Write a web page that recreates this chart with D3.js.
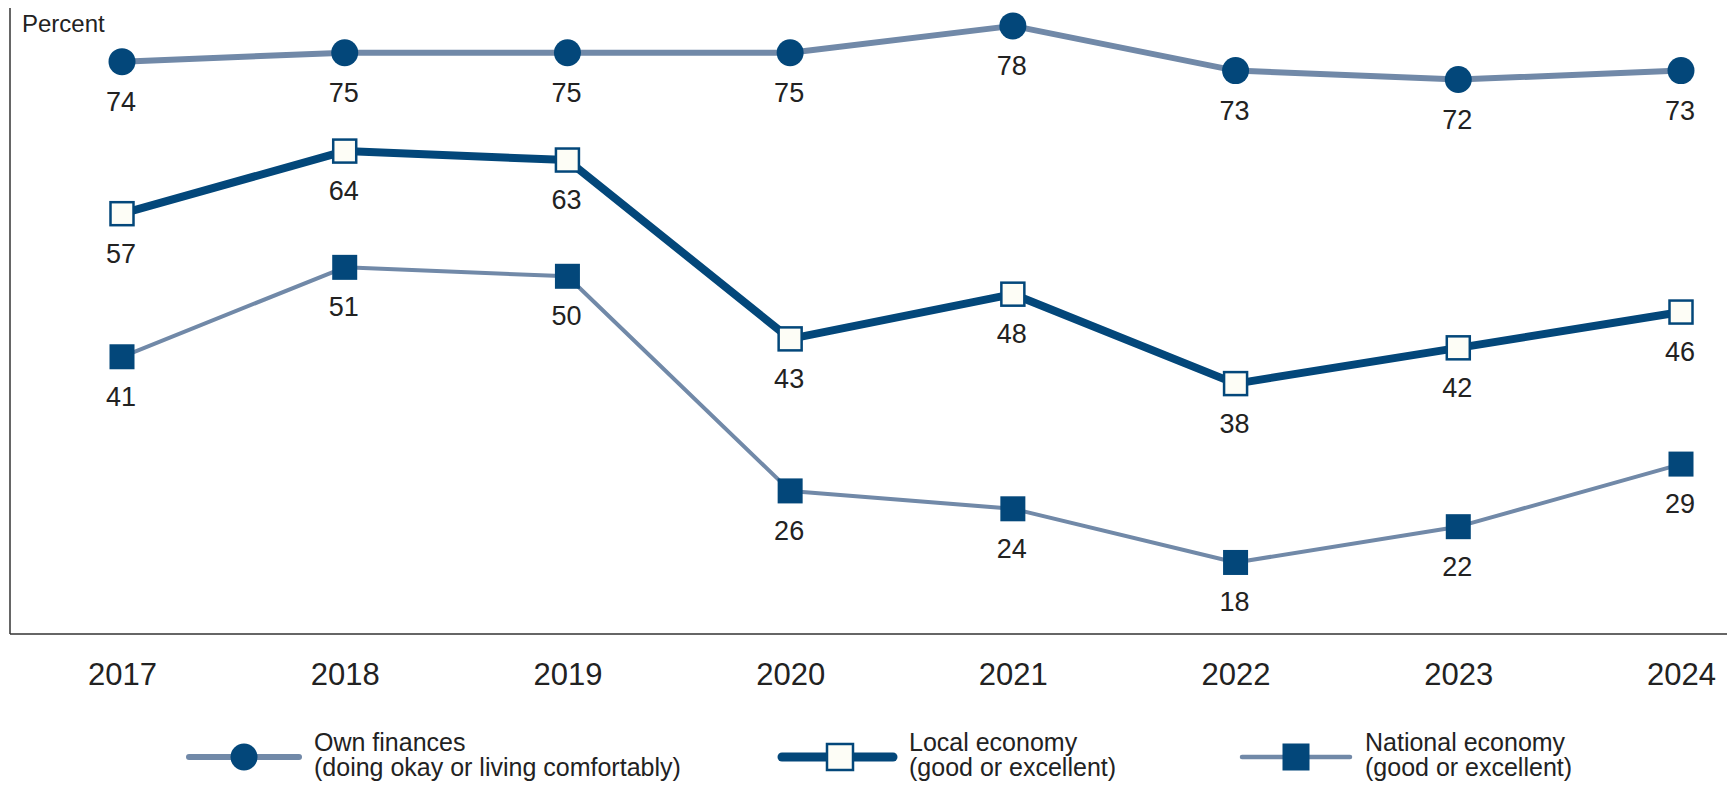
<!DOCTYPE html>
<html>
<head>
<meta charset="utf-8">
<script src="https://cdn.jsdelivr.net/npm/d3@7"></script>
<style>
  html, body { margin: 0; padding: 0; background: #fff; }
  svg { display: block; }
  text { font-family: "Liberation Sans", Arial, sans-serif; fill: #222; }
</style>
</head>
<body>
<svg id="chart" width="1729" height="788"></svg>
<script>
const years = ["2017", "2018", "2019", "2020", "2021", "2022", "2023", "2024"];
const ownFinances = [74, 75, 75, 75, 78, 73, 72, 73];
const localEconomy = [57, 64, 63, 43, 48, 38, 42, 46];
const nationalEconomy = [41, 51, 50, 26, 24, 18, 22, 29];
const seriesNames = ["Own finances", "Local economy", "National economy"];
const seriesSubtitles = ["(doing okay or living comfortably)", "(good or excellent)", "(good or excellent)"];
const yLabel = "Percent";

const dark = "#03477a";
const light = "#7189a8";

const svg = d3.select("#chart");

const x = d3.scalePoint().domain(years).range([122, 1681]);
const y = d3.scaleLinear().domain([10, 80]).range([634, 8]);

// axes frame
svg.append("line").attr("x1", 10).attr("x2", 10).attr("y1", y(80)).attr("y2", y(10))
  .attr("stroke", "#333").attr("stroke-width", 1.5);
svg.append("line").attr("x1", 10).attr("x2", 1727).attr("y1", y(10)).attr("y2", y(10))
  .attr("stroke", "#333").attr("stroke-width", 1.5);

svg.append("text").attr("x", 22).attr("y", 32).attr("font-size", 24).text(yLabel);

// x axis tick labels
const xAxis = d3.axisBottom(x).tickSize(0).tickPadding(0);
const gx = svg.append("g").attr("transform", `translate(0, ${y(10)})`).call(xAxis);
gx.select(".domain").remove();
gx.selectAll("text").attr("font-size", 31).attr("fill", "#222")
  .attr("font-family", '"Liberation Sans", Arial, sans-serif')
  .attr("dy", null).attr("y", 51);

const series = [
  { name: "own", values: ownFinances, lineColor: light, lineWidth: 6, marker: "circle" },
  { name: "local", values: localEconomy, lineColor: dark, lineWidth: 8, marker: "open" },
  { name: "national", values: nationalEconomy, lineColor: light, lineWidth: 4, marker: "filled" }
];

const line = d3.line().x(d => x(d.year)).y(d => y(d.v));

function drawMarker(g, type, cx, cy, size) {
  if (type === "circle") {
    g.append("circle").attr("cx", cx).attr("cy", cy).attr("r", size / 2).attr("fill", dark);
  } else if (type === "open") {
    g.append("rect").attr("x", cx - size / 2 + 1).attr("y", cy - size / 2 + 1)
      .attr("width", size - 2).attr("height", size - 2)
      .attr("fill", "#fdfdf6").attr("stroke", dark).attr("stroke-width", 2.5);
  } else {
    g.append("rect").attr("x", cx - size / 2).attr("y", cy - size / 2)
      .attr("width", size).attr("height", size).attr("fill", dark);
  }
}

series.forEach(s => {
  const pts = years.map((yr, i) => ({ year: yr, v: s.values[i] }));
  svg.append("path").datum(pts).attr("d", line).attr("fill", "none")
    .attr("stroke", s.lineColor).attr("stroke-width", s.lineWidth)
    .attr("stroke-linejoin", "round").attr("stroke-linecap", "round");
  const g = svg.append("g");
  pts.forEach(p => drawMarker(g, s.marker, x(p.year), y(p.v), s.marker === "circle" ? 27 : 25));
  svg.append("g").selectAll("text").data(pts).join("text")
    .attr("x", d => x(d.year) - 1).attr("y", d => y(d.v) + 49)
    .attr("text-anchor", "middle").attr("font-size", 27)
    .text(d => d.v);
});

// legend
const legendItems = [
  { x0: 189, x1: 299, mx: 244, tx: 314, color: light, w: 6, marker: "circle", size: 27 },
  { x0: 782, x1: 893, mx: 840, tx: 909, color: dark, w: 9, marker: "open", size: 28 },
  { x0: 1242, x1: 1350, mx: 1296, tx: 1365, color: light, w: 4.5, marker: "filled", size: 27 }
];
const ly = 757;
legendItems.forEach((it, i) => {
  const g = svg.append("g");
  g.append("line").attr("x1", it.x0).attr("x2", it.x1).attr("y1", ly).attr("y2", ly)
    .attr("stroke", it.color).attr("stroke-width", it.w).attr("stroke-linecap", "round");
  drawMarker(g, it.marker, it.mx, ly, it.size);
  g.append("text").attr("x", it.tx).attr("y", 751).attr("font-size", 25).text(seriesNames[i]);
  g.append("text").attr("x", it.tx).attr("y", 776).attr("font-size", 25).text(seriesSubtitles[i]);
});
</script>
</body>
</html>
